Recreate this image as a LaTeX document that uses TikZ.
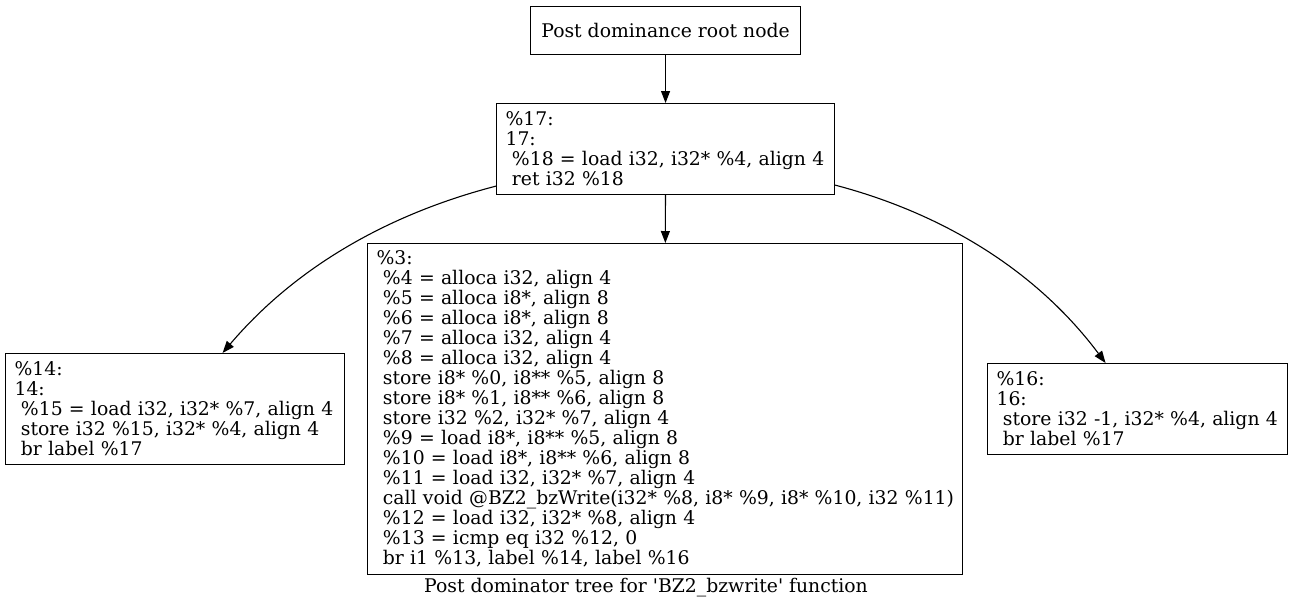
\documentclass[tikz,border=0pt]{standalone}
\usepackage{fontspec}
\setmainfont{DejaVu Serif}
\usetikzlibrary{arrows.meta}
\newcommand\ind{\hspace*{0.34em}}
\tikzset{
  x=1pt, y=-1pt,
  box/.style={draw, line width=1.1pt, rectangle, inner xsep=9pt, inner ysep=0pt,
    font=\fontsize{18.8}{20}\selectfont, align=left, anchor=north west},
  arr/.style={line width=1.1pt, -{Triangle[length=12pt,width=9pt]}},
}
\begin{document}
\begin{tikzpicture}
\useasboundingbox (0,0) rectangle (1293,611);
\node[box, align=center, minimum width=270pt, minimum height=48pt] (root) at (530,6) {Post dominance root node};
\node[box, minimum width=338pt, minimum height=91pt, text width=320pt] (n17) at (496,103)
 {\%17:\\17:\\\ind\%18 = load i32, i32* \%4, align 4\\\ind ret i32 \%18};
\node[box, minimum width=595pt, minimum height=331pt, text width=577pt] (n3) at (367,243)
 {\%3:\\\ind\%4 = alloca i32, align 4\\\ind\%5 = alloca i8*, align 8\\\ind\%6 = alloca i8*, align 8\\\ind\%7 = alloca i32, align 4\\\ind\%8 = alloca i32, align 4\\\ind store i8* \%0, i8** \%5, align 8\\\ind store i8* \%1, i8** \%6, align 8\\\ind store i32 \%2, i32* \%7, align 4\\\ind\%9 = load i8*, i8** \%5, align 8\\\ind\%10 = load i8*, i8** \%6, align 8\\\ind\%11 = load i32, i32* \%7, align 4\\\ind\makebox[0pt][l]{call void @BZ2\_bzWrite(i32* \%8, i8* \%9, i8* \%10, i32 \%11)}\\\ind\%12 = load i32, i32* \%8, align 4\\\ind\%13 = icmp eq i32 \%12, 0\\\ind br i1 \%13, label \%14, label \%16};
\node[box, minimum width=339pt, minimum height=111pt, text width=321pt] (n14) at (5,353)
 {\%14:\\14:\\\ind\%15 = load i32, i32* \%7, align 4\\\ind store i32 \%15, i32* \%4, align 4\\\ind br label \%17};
\node[box, minimum width=300pt, minimum height=91pt, text width=282pt] (n16) at (987,363)
 {\%16:\\16:\\\ind store i32 -1, i32* \%4, align 4\\\ind br label \%17};
\node[font=\fontsize{18.8}{20}\selectfont, inner sep=0pt] (cap) at (646,588) {Post dominator tree for \textquotesingle BZ2\_bzwrite\textquotesingle{} function};
\draw[arr] (root) -- (n17);
\draw[arr] (n17) -- (n3);
\draw[arr] ([yshift=9pt]n17.south west) .. controls (396,212) and (300,262) .. ([xshift=47.5pt]n14.north);
\draw[arr] ([yshift=10pt]n17.south east) .. controls (930,210) and (1030,262) .. ([xshift=-32pt]n16.north);
\end{tikzpicture}
\end{document}
